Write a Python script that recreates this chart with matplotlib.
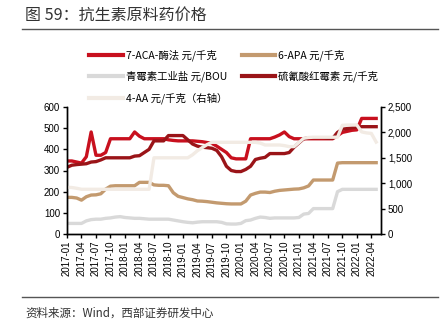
import numpy as np
import matplotlib
matplotlib.use("Agg")
import matplotlib.pyplot as plt
from matplotlib.ticker import FuncFormatter

plt.rcParams['font.family'] = ['Liberation Sans', 'Noto Sans CJK SC', 'DejaVu Sans']

# monthly data, 2017-01 .. 2022-05
months = [f"{2017 + i // 12}-{i % 12 + 1:02d}" for i in range(65)]

aca = [345, 345, 340, 335, 365, 482, 372, 372, 385, 450,
       450, 450, 450, 450, 482, 462, 450, 450, 450, 450,
       450, 445, 442, 440, 440, 440, 440, 438, 436, 432,
       428, 415, 400, 385, 360, 355, 355, 355, 450, 450,
       450, 450, 450, 458, 468, 482, 460, 450, 450, 450,
       450, 450, 450, 450, 450, 450, 465, 480, 485, 490,
       492, 546, 546, 546, 546]

apa = [173, 173, 170, 160, 176, 184, 185, 190, 212, 226,
       228, 228, 228, 228, 228, 244, 244, 244, 232, 230,
       230, 228, 195, 178, 172, 166, 162, 156, 155, 153,
       150, 147, 145, 143, 142, 142, 142, 155, 184, 192,
       198, 198, 196, 202, 206, 208, 210, 212, 213, 218,
       227, 255, 255, 255, 255, 255, 335, 337, 337, 337,
       337, 337, 337, 337, 337]

pen = [50, 50, 50, 50, 62, 68, 70, 70, 74, 76,
       80, 82, 78, 76, 74, 74, 72, 70, 70, 70,
       70, 70, 66, 62, 58, 55, 53, 56, 58, 58,
       58, 58, 55, 48, 47, 47, 50, 63, 66, 74,
       80, 78, 74, 76, 76, 76, 76, 76, 78, 94,
       97, 120, 120, 120, 120, 120, 200, 211, 211, 211,
       211, 211, 211, 211, 211]

ery = [315, 325, 328, 330, 332, 340, 342, 350, 360, 360,
       360, 360, 360, 360, 368, 370, 385, 400, 440, 440,
       440, 465, 465, 465, 465, 445, 425, 415, 410, 408,
       405, 395, 365, 320, 300, 295, 295, 305, 320, 352,
       358, 362, 380, 380, 380, 380, 385, 410, 430, 450,
       455, 455, 455, 455, 452, 452, 480, 495, 498, 502,
       505, 507, 507, 507, 507]

aa4 = [919, 915, 900, 880, 880, 880, 880, 880, 880, 880,
       880, 880, 880, 880, 880, 880, 880, 880, 1500, 1500,
       1500, 1500, 1500, 1500, 1500, 1500, 1560, 1640, 1700, 1760,
       1805, 1805, 1805, 1805, 1805, 1805, 1805, 1805, 1805, 1805,
       1790, 1752, 1752, 1752, 1752, 1740, 1720, 1720, 1800, 1885,
       1900, 1905, 1905, 1905, 1905, 1905, 1905, 2140, 2145, 2145,
       2145, 2010, 1990, 1980, 1810]

tick_idx = list(range(0, 64, 3))
tick_labels = [months[i] for i in tick_idx]

c_aca = '#C8101E'
c_apa = '#C39A6F'
c_pen = '#D9D9D9'
c_ery = '#9A1418'
c_aa4 = '#F2EBE4'
lw = 2.4

fig = plt.figure(figsize=(4.42, 3.34), dpi=100)
ax = fig.add_axes([67 / 442, 1 - 234 / 334, (381 - 67) / 442, (234 - 107) / 334])
ax2 = ax.twinx()

x = np.arange(len(months))
l1, = ax.plot(x, aca, color=c_aca, lw=lw, label='7-ACA-酶法 元/千克')
l2, = ax.plot(x, apa, color=c_apa, lw=lw, label='6-APA 元/千克')
l3, = ax.plot(x, pen, color=c_pen, lw=lw, label='青霉素工业盐 元/BOU')
l4, = ax.plot(x, ery, color=c_ery, lw=lw, label='硫氰酸红霉素 元/千克')
l5, = ax2.plot(x, aa4, color=c_aa4, lw=lw, label='4-AA 元/千克（右轴）')

ax.set_xlim(0, 65)
ax.set_ylim(0, 600)
ax2.set_ylim(0, 2500)
ax.set_yticks(range(0, 601, 100))
ax2.set_yticks(range(0, 2501, 500))
ax2.yaxis.set_major_formatter(FuncFormatter(lambda v, p: f"{int(v):,}"))
ax.set_xticks(tick_idx)
ax.set_xticklabels(tick_labels, rotation=90)

for a in (ax, ax2):
    a.spines['top'].set_visible(False)
    for s in ('left', 'right', 'bottom'):
        a.spines[s].set_linewidth(1.0)
        a.spines[s].set_color('black')
    a.tick_params(labelsize=7, length=3, width=1, pad=2, colors='black')
ax.patch.set_visible(False)

leg = fig.legend([l1, l3, l5, l2, l4], [h.get_label() for h in (l1, l3, l5, l2, l4)],
                 ncol=2, loc='upper left', bbox_to_anchor=(80 / 442, 1 - 40 / 334),
                 frameon=False, handlelength=3.2, handletextpad=0.3,
                 columnspacing=1.4, labelspacing=0.95,
                 prop={'family': ['Noto Sans CJK SC', 'DejaVu Sans'], 'size': 7.5})
for line in leg.get_lines():
    line.set_linewidth(3)

fig.text(25 / 442, 1 - 15 / 334, '图 59：抗生素原料药价格', fontsize=11.5, color='#333333',
         va='center', ha='left', family=['Noto Sans CJK SC', 'DejaVu Sans'])
fig.add_artist(plt.Line2D([22 / 442, 438 / 442], [1 - 29 / 334] * 2, color='#555555', lw=1))
fig.add_artist(plt.Line2D([22 / 442, 438 / 442], [1 - 297 / 334] * 2, color='#555555', lw=1))
fig.text(25 / 442, 1 - 313 / 334, '资料来源：Wind，西部证券研发中心', fontsize=8.3, color='#333333',
         va='center', ha='left', family=['Noto Sans CJK SC', 'DejaVu Sans'])

fig.savefig('out.png', dpi=100)
